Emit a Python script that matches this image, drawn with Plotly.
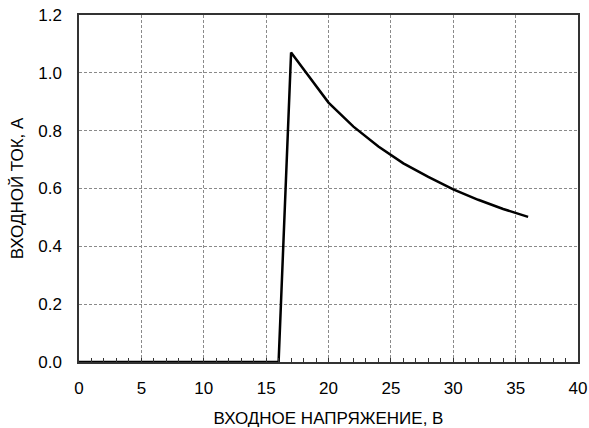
import plotly.graph_objects as go

# Input current vs input voltage
voltage = [0, 2, 4, 6, 8, 10, 12, 14, 16, 17, 20, 22, 24, 26, 28, 30, 32, 34, 36]
current = [0, 0, 0, 0, 0, 0, 0, 0, 0, 1.07, 0.897, 0.814, 0.745, 0.687, 0.640, 0.597, 0.561, 0.529, 0.502]

x_ticks = [0, 5, 10, 15, 20, 25, 30, 35, 40]
y_ticks = [0.0, 0.2, 0.4, 0.6, 0.8, 1.0, 1.2]
y_tick_text = [f"{v:.1f}" for v in y_ticks]

FONT = "Liberation Sans, Arial, sans-serif"

fig = go.Figure()
fig.add_trace(go.Scatter(
    x=voltage, y=current, mode="lines",
    line=dict(color="black", width=2.5),
    cliponaxis=False, hoverinfo="skip",
))

fig.update_layout(
    width=589, height=428,
    margin=dict(l=79, r=11, t=15, b=66, autoexpand=False),
    paper_bgcolor="white", plot_bgcolor="white",
    showlegend=False,
    font=dict(family=FONT, size=17, color="black"),
)

fig.update_xaxes(
    range=[0, 40], tickvals=x_ticks,
    ticks="inside", ticklen=4, tickcolor="#333333", tickwidth=1,
    showgrid=True, gridcolor="#8a8a8a", griddash="3px,2px", gridwidth=1,
    showline=True, linecolor="#333333", linewidth=1.5, mirror=True,
    zeroline=False, automargin=False,
    minor=dict(dtick=1, ticks="inside", ticklen=4, tickcolor="#333333",
               tickwidth=1, showgrid=False),
    ticklabelstandoff=10,
    title=dict(text="ВХОДНОЕ НАПРЯЖЕНИЕ, В", font=dict(size=17), standoff=20),
    tickfont=dict(size=17),
)
fig.update_yaxes(
    range=[0, 1.2], tickvals=y_ticks, ticktext=y_tick_text, ticks="",
    showgrid=True, gridcolor="#8a8a8a", griddash="3px,2px", gridwidth=1,
    showline=True, linecolor="#333333", linewidth=1.5, mirror=True,
    zeroline=False, automargin=False,
    ticklabelstandoff=12,
    title=dict(text="ВХОДНОЙ ТОК, А", font=dict(size=17), standoff=10),
    tickfont=dict(size=17),
)

fig.write_html("out.html")
